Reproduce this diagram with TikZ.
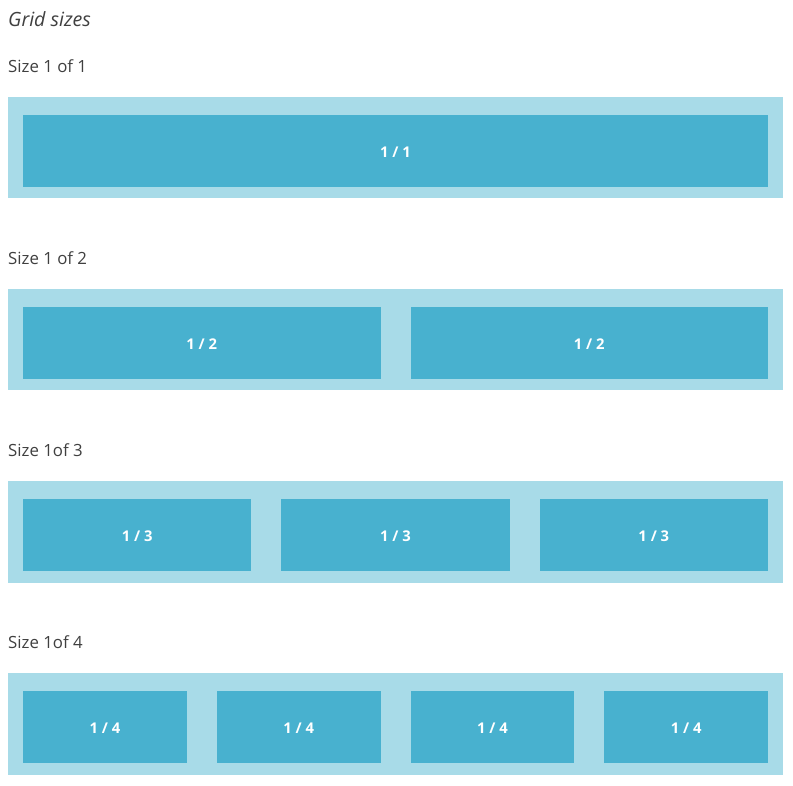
\documentclass[tikz,border=0pt]{standalone}
\usepackage{fontspec}
\setmainfont{Open Sans}
\definecolor{outerc}{HTML}{A8DBE8}
\definecolor{innerc}{HTML}{48B1CF}
\definecolor{txtc}{HTML}{404040}
\begin{document}
\begin{tikzpicture}[x=1pt,y=-1pt,
  outerbox/.style={fill=outerc,draw=none},
  cell/.style={fill=innerc,draw=none,inner sep=0pt,outer sep=0pt},
  celltext/.style={text=white,font=\fontsize{14.8}{17}\selectfont\bfseries},
  heading/.style={anchor=base west,inner sep=0pt,text=txtc,font=\fontsize{16.8}{20}\selectfont},
  titletext/.style={anchor=base west,inner sep=0pt,text=txtc,font=\fontsize{19.6}{23}\selectfont\itshape}]
\useasboundingbox (0,0) rectangle (793,786);
\fill[white] (0,0) rectangle (793,786);
\node[titletext] (title) at (8,27) {Grid sizes};
% rows
\foreach \n/\lab/\hd in {1/1/Size 1 of 1,2/2/Size 1 of 2,3/3/Size 1of 3,4/4/Size 1of 4}{
  \pgfmathsetmacro{\top}{97+192*(\n-1)}
  \node[heading] (head\n) at (8,\top-24.3) {\hd};
  \fill[outerbox] (8,\top) rectangle (783,\top+101.5);
  \pgfmathsetmacro{\w}{(745-30*(\n-1))/\n}
  \foreach \k in {1,...,\n}{
    \pgfmathsetmacro{\xl}{23+(\k-1)*(\w+30)}
    \pgfmathsetmacro{\xr}{\xl+\w}
    \path[cell,fill=innerc] (\xl,\top+18) rectangle (\xr,\top+90);
    \node[celltext] (c\n-\k) at ({(\xl+\xr)/2},\top+55) {1 / \lab};
  }
}
\end{tikzpicture}
\end{document}
